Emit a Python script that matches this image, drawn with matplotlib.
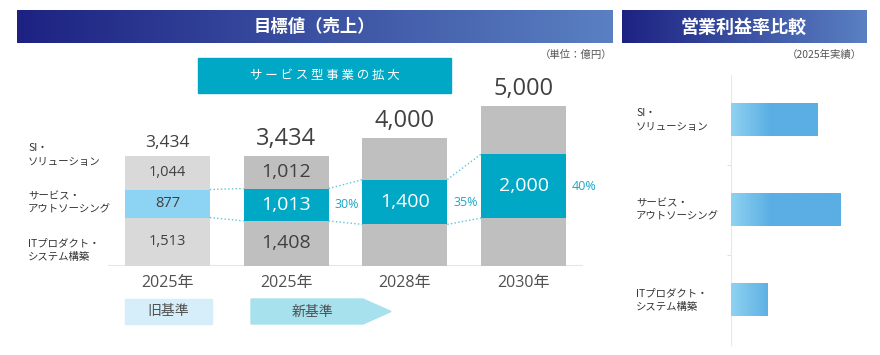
import numpy as np
import matplotlib.pyplot as plt
import matplotlib.transforms as mtransforms
from matplotlib.colors import LinearSegmentedColormap
from matplotlib.patches import Rectangle, Polygon

plt.rcParams['font.family'] = ['Noto Sans CJK JP', 'DejaVu Sans']
num_font = ['Open Sans', 'Noto Sans CJK JP']

# dane - sprzedaz (oku yen)
years = ['2025年', '2025年', '2028年', '2030年']
si_values = [1044, 1012, 1300, 1500]
service_values = [877, 1013, 1400, 2000]
it_values = [1513, 1408, 1300, 1500]
totals = [3434, 3434, 4000, 5000]
share_labels = ['', '30%', '35%', '40%']
segment_labels = ['SI・\nソリューション', 'サービス・\nアウトソーシング', 'ITプロダクト・\nシステム構築']

# prawy wykres - marza operacyjna (wartosci wzgledne)
margin_categories = ['SI・\nソリューション', 'サービス・\nアウトソーシング', 'ITプロダクト・\nシステム構築']
margin_rel = [8.7, 11.0, 3.7]

W, H = 880, 355
fig = plt.figure(figsize=(W / 100, H / 100), dpi=100)

def box(x0, y0, x1, y1):
    return fig.add_axes([x0 / W, 1 - y1 / H, (x1 - x0) / W, (y1 - y0) / H])

def fx(x):
    return x / W

def fy(y):
    return 1 - y / H

dark = '#404040'
cyan = '#00a8c6'

# naglowki z gradientem
head_cmap = LinearSegmentedColormap.from_list('head', ['#1d2282', '#5a80c2'])
for x0, x1, title, fs in [(17, 612, '目標値（売上）', 12.5), (622, 866, '営業利益率比較', 13)]:
    hax = box(x0, 10, x1, 43)
    hax.imshow(np.linspace(0, 1, 256)[None, :], cmap=head_cmap, aspect='auto')
    hax.axis('off')
    fig.text(fx((x0 + x1) / 2), fy(27), title, color='white', fontsize=fs,
             fontweight='bold', ha='center', va='center')

fig.text(fx(612), fy(55), '（単位：億円）', fontsize=7.5, color='#555555', ha='right', va='center')
fig.text(fx(862), fy(55), '（2025年実績）', fontsize=7.5, color='#555555', ha='right', va='center')

fig.patches.append(Rectangle((fx(198), fy(93)), fx(253), 35 / H, color=cyan,
                             transform=fig.transFigure))
fig.text(fx(324.5), fy(75.5), ' '.join('サービス型事業の拡大'), color='white', fontsize=9,
         ha='center', va='center')

# lewy wykres
ax = box(108, 58, 583, 266)
x = np.arange(len(years))
w = 0.715
gray = ['#d9d9d9', '#bfbfbf', '#bfbfbf', '#bfbfbf']
svc_col = ['#8dd3f3', cyan, cyan, cyan]
it_arr = np.array(it_values)
svc_arr = np.array(service_values)
ax.bar(x, it_values, w, color=gray)
ax.bar(x, service_values, w, bottom=it_arr, color=svc_col)
ax.bar(x, si_values, w, bottom=it_arr + svc_arr, color=gray)
ax.set_xlim(-0.5, 3.5)
ax.set_ylim(0, 6500)
ax.axis('off')
ax.axhline(0, color='#e6e6e6', lw=1.5, zorder=0)

for i in range(len(years)):
    bottom = it_values[i]
    top = it_values[i] + service_values[i]
    mid = (bottom + top) / 2
    big = i > 0
    fs_in = 14 if big else 10.5
    if i < 2:
        ax.text(i, bottom / 2, f'{it_values[i]:,}', ha='center', va='center', fontsize=fs_in,
                color=dark, family=num_font)
        ax.text(i, top + si_values[i] / 2, f'{si_values[i]:,}', ha='center', va='center',
                fontsize=fs_in, color=dark, family=num_font)
    ax.text(i, mid, f'{service_values[i]:,}', ha='center', va='center', fontsize=fs_in,
            color='white' if big else dark, family=num_font)
    ax.annotate(f'{totals[i]:,}', (i, totals[i]), xytext=(0, 12.6 if big else 9.4),
                textcoords='offset points', ha='center', va='center', family=num_font,
                fontsize=17 if big else 12.5, color=dark, annotation_clip=False)
    ax.annotate(years[i], (i, 0), xytext=(0, -12.2), textcoords='offset points', family=num_font,
                ha='center', va='center', fontsize=11.5, color='#505050', annotation_clip=False)
    if share_labels[i]:
        ax.annotate(share_labels[i], (i + w / 2, mid), xytext=(13, 0), textcoords='offset points',
                    ha='center', va='center', fontsize=9, color='#1aa7c8', family=num_font,
                    annotation_clip=False)
    if i < len(years) - 1:
        nb = it_values[i + 1]
        nt = it_values[i + 1] + service_values[i + 1]
        for ya, yb in [(top, nt), (bottom, nb)]:
            ax.plot([i + w / 2, i + 1 - w / 2], [ya, yb], ls=':', lw=1, color='#5bc5dc')

for lab, yc in zip(segment_labels, [155, 203, 250]):
    fig.text(fx(28), fy(yc), lab, fontsize=7.5, color='#333333', ha='left', va='center',
             linespacing=1.45)

# stare / nowe kryterium
fig.patches.append(Rectangle((fx(125), fy(324)), fx(87), 25 / H, color='#d6eefa',
                             transform=fig.transFigure))
fig.text(fx(168.5), fy(311.5), '旧基準', fontsize=10, color='#505050', ha='center', va='center')
arrow_pts = [(251, 299), (363, 299), (391, 311.5), (363, 324), (251, 324)]
fig.patches.append(Polygon([(fx(a), fy(b)) for a, b in arrow_pts], closed=True, color='#a6e1ed',
                           transform=fig.transFigure))
fig.text(fx(312), fy(311.5), '新基準', fontsize=10, color='#505050', ha='center', va='center')

# prawy wykres
ax2 = box(731, 75, 866, 345)
yy = np.arange(len(margin_categories))
bars = ax2.barh(yy, margin_rel, 0.36, color='#5aaee3')
bar_cmap = LinearSegmentedColormap.from_list('bar', ['#8fd2f2', '#5aaee3'])
for b in bars:
    x0, y0, bw, bh = b.get_x(), b.get_y(), b.get_width(), b.get_height()
    t = np.linspace(0, bw, 200)
    grad = np.clip(t / 4.0, 0, 1)[None, :]
    ax2.imshow(grad, cmap=bar_cmap, vmin=0, vmax=1, aspect='auto',
               extent=[x0, x0 + bw, y0 + bh, y0], zorder=3)
ax2.set_xlim(0, 13.5)
ax2.set_ylim(2.5, -0.5)
for s in ['top', 'right', 'bottom']:
    ax2.spines[s].set_visible(False)
ax2.spines['left'].set_color('#e8e8e8')
ax2.set_xticks([])
ax2.set_yticks([0.5, 1.5])
ax2.set_yticklabels([])
ax2.tick_params(axis='y', length=3, color='#e0e0e0')

trans = mtransforms.blended_transform_factory(fig.transFigure, ax2.transData)
for lab, yc in zip(margin_categories, yy):
    ax2.text(fx(636), yc, lab, transform=trans, fontsize=7.5, color='#333333',
             ha='left', va='center', linespacing=1.45)

plt.savefig('out.png', dpi=100)
